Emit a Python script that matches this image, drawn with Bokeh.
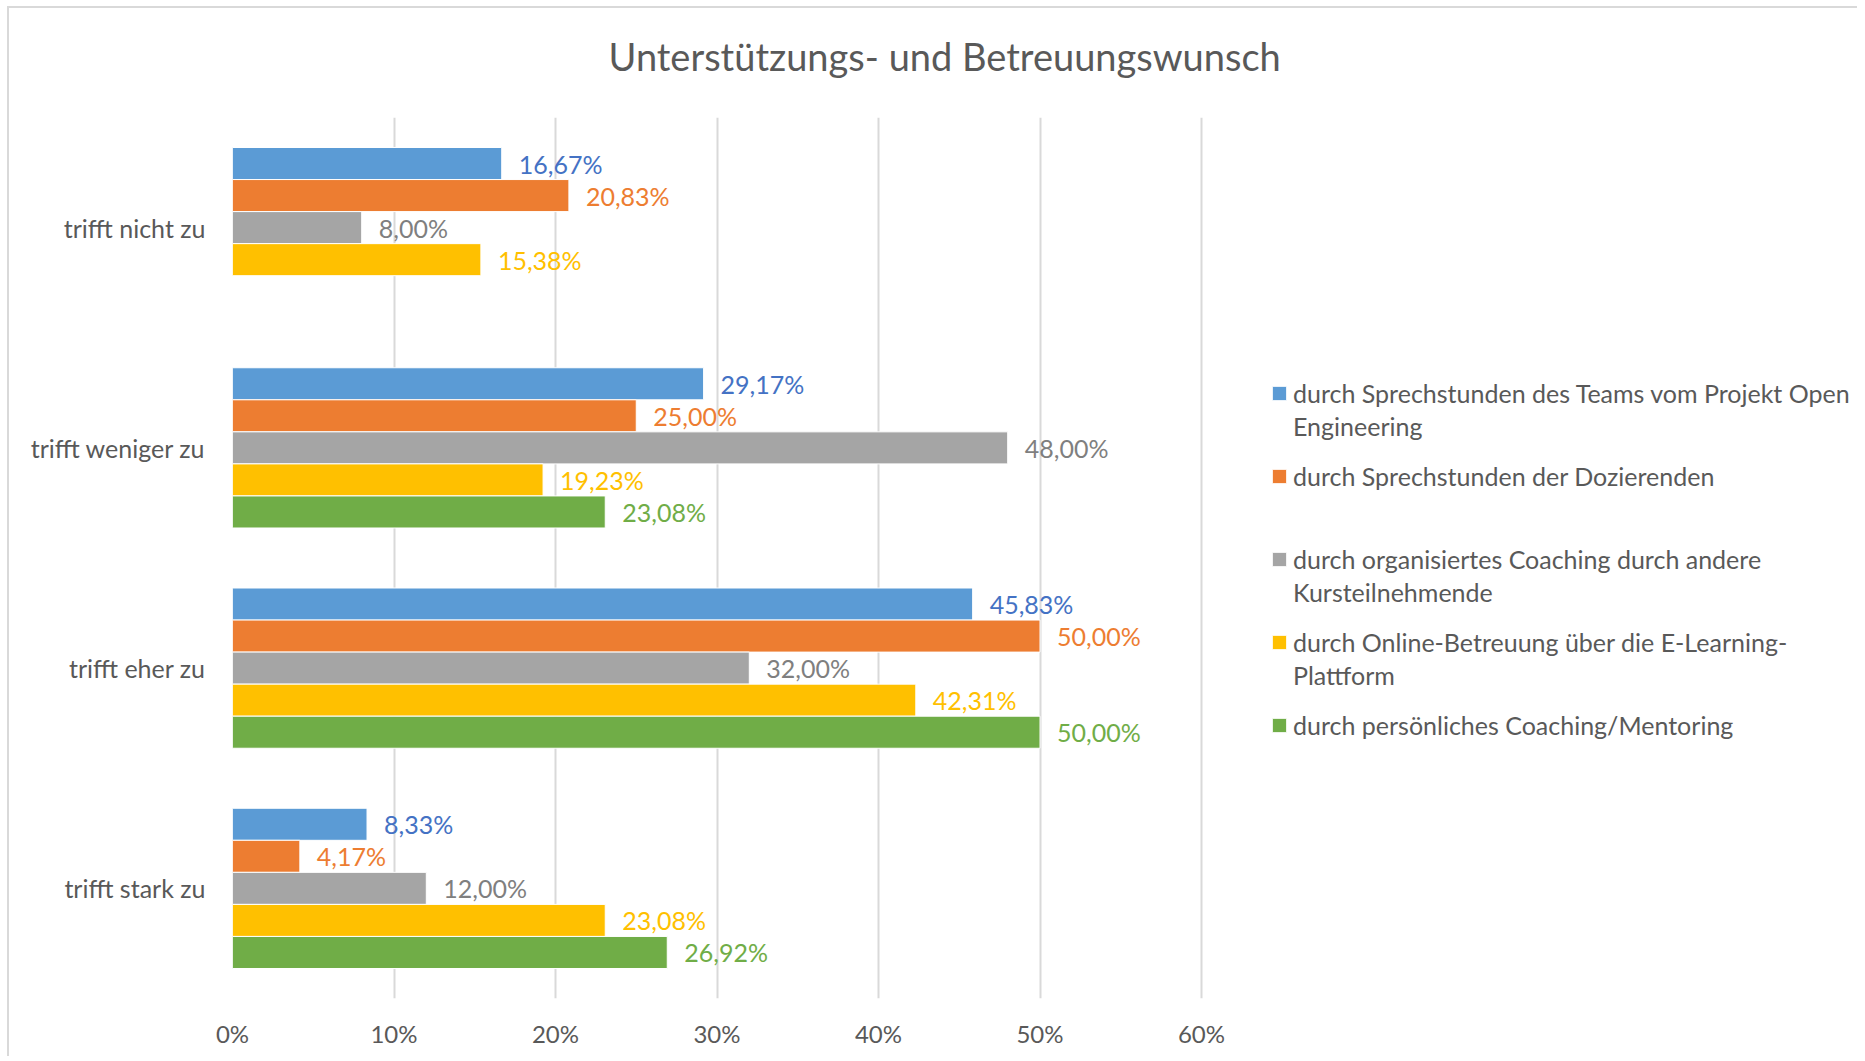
from bokeh.plotting import figure
from bokeh.models import (ColumnDataSource, FixedTicker, PrintfTickFormatter, Legend,
                          LegendItem, Title, FactorRange, Range1d)
from bokeh.transform import dodge
from bokeh.core.properties import value
from bokeh.embed import file_html
from bokeh.resources import INLINE

# ---------------- data ----------------
categories = ["trifft nicht zu", "trifft weniger zu", "trifft eher zu", "trifft stark zu"]
series_names = [
    "durch Sprechstunden des Teams vom Projekt Open",
    "durch Sprechstunden der Dozierenden",
    "durch organisiertes Coaching durch andere",
    "durch Online-Betreuung über die E-Learning-",
    "durch persönliches Coaching/Mentoring",
]
# wrapped continuation lines of the legend labels
series_name_cont = ["Engineering", " ", "Kursteilnehmende", "Plattform"]

teams_open_engineering = [16.67, 29.17, 45.83, 8.33]
sprechstunden_dozierende = [20.83, 25.00, 50.00, 4.17]
coaching_kursteilnehmende = [8.00, 48.00, 32.00, 12.00]
online_betreuung = [15.38, 19.23, 42.31, 23.08]
persoenliches_coaching = [None, 23.08, 50.00, 26.92]
x_ticks = [0, 10, 20, 30, 40, 50, 60]

series_values = [teams_open_engineering, sprechstunden_dozierende,
                 coaching_kursteilnehmende, online_betreuung, persoenliches_coaching]
bar_colors = ["#5B9BD5", "#ED7D31", "#A5A5A5", "#FFC000", "#70AD47"]
label_colors = ["#4472C4", "#ED7D31", "#7F7F7F", "#FFC000", "#70AD47"]

FONT = "Lato"
TXT = "#595959"

W, H = 1850, 1050
LEFT, TOP, BOTTOM = 223, 109, 60
AXIS_PX = 969  # pixels spanned by 0..60 %
frame_w = W - LEFT
x_end = x_ticks[-1] * frame_w / AXIS_PX

p = figure(width=W, height=H, output_backend="svg", toolbar_location=None,
           y_range=FactorRange(factors=list(reversed(categories)), range_padding=0),
           x_range=Range1d(0, x_end),
           min_border_left=LEFT, min_border_right=0, min_border_top=TOP,
           min_border_bottom=BOTTOM)
p.outline_line_color = None
p.background_fill_color = "white"
p.border_fill_color = "white"
p.styles = {"border-top": "2px solid #d9d9d9", "border-left": "2px solid #d9d9d9",
            "margin-left": "7px", "margin-top": "6px"}

bar_h = 0.1455
offsets = [2 * bar_h, bar_h, 0.0, -bar_h, -2 * bar_h]

legend_items = []
for i, vals in enumerate(series_values):
    cats = [c for c, v in zip(categories, vals) if v is not None]
    vs = [v for v in vals if v is not None]
    labels = [f"{v:.2f}".replace(".", ",") + "%" for v in vs]
    src = ColumnDataSource(dict(cat=cats, val=vs, lab=labels))
    r = p.hbar(y=dodge("cat", offsets[i], range=p.y_range), right="val", left=0,
               height=bar_h, source=src, fill_color=bar_colors[i],
               line_color="white", line_width=1)
    p.text(x="val", y=dodge("cat", offsets[i], range=p.y_range), text="lab", source=src,
           x_offset=17, text_align="left", text_baseline="middle",
           text_font=value(FONT), text_font_size="25px", text_color=label_colors[i])
    legend_items.append(LegendItem(label=series_names[i], renderers=[r]))

# invisible renderer used only for legend continuation lines
dummy = p.hbar(y=[], right=[], left=0, height=bar_h, fill_alpha=0, line_alpha=0)
cont_items = [LegendItem(label=t, renderers=[dummy]) for t in series_name_cont]

# axes
p.xaxis.ticker = FixedTicker(ticks=x_ticks)
p.xaxis.formatter = PrintfTickFormatter(format="%d%%")
p.xaxis.axis_line_color = None
p.xaxis.major_tick_line_color = None
p.xaxis.minor_tick_line_color = None
p.xaxis.major_tick_out = 0
p.xaxis.major_label_standoff = 20
p.xaxis.major_label_text_font = FONT
p.xaxis.major_label_text_font_size = "24px"
p.xaxis.major_label_text_color = TXT

p.yaxis.axis_line_color = None
p.yaxis.major_tick_line_color = None
p.yaxis.minor_tick_line_color = None
p.yaxis.major_tick_out = 0
p.yaxis.major_label_standoff = 27
p.yaxis.major_label_text_font = FONT
p.yaxis.major_label_text_font_size = "25px"
p.yaxis.major_label_text_color = TXT

p.xgrid.grid_line_color = "#D9D9D9"
p.xgrid.grid_line_width = 2
p.ygrid.grid_line_color = None

# spacer between title and plot area (added first -> nearest the frame)
p.add_layout(Title(text=" ", text_font_size="1px", standoff=13), "above")
# title
p.add_layout(Title(text="Unterstützungs- und Betreuungswunsch", align="left", offset=376,
                   text_font=FONT, text_font_size="38px", text_font_style="normal",
                   text_color=TXT, standoff=45), "above")

common = dict(padding=0, margin=0, spacing=53, glyph_width=18, glyph_height=18,
              label_height=30, label_standoff=5, label_text_font=FONT,
              label_text_font_size="25px", label_text_color=TXT,
              border_line_color=None, background_fill_alpha=0)
legend = Legend(items=legend_items, location=(1038, 258), **common)
legend_cont = Legend(items=cont_items, location=(1038, 308), **common)
p.add_layout(legend, "center")
p.add_layout(legend_cont, "center")

open("out.html", "w").write(file_html(p, INLINE))
